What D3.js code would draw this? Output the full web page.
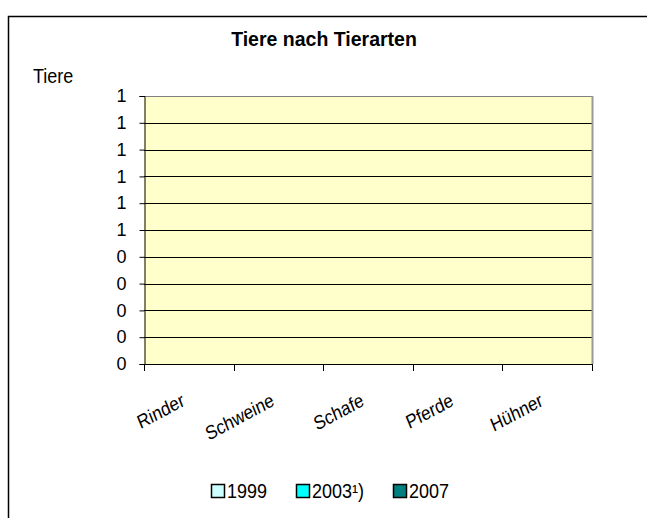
<!DOCTYPE html>
<html lang="de">
<head>
<meta charset="utf-8">
<title>Tiere nach Tierarten</title>
<script src="https://d3js.org/d3.v7.min.js"></script>
<style>
  body { margin: 0; background: #fff; font-family: 'Liberation Sans', Arial, sans-serif; }
</style>
</head>
<body>
<div id="chart"></div>
<script>

/* Data */
/* ==== */

var categories = ['Rinder', 'Schweine', 'Schafe', 'Pferde', 'Hühner'];
var seriesNames = ['1999', '2003¹)', '2007'];
var seriesColors = ['#ccffff', '#00ffff', '#008080'];
var values1999 = [0, 0, 0, 0, 0];
var values2003 = [0, 0, 0, 0, 0];
var values2007 = [0, 0, 0, 0, 0];
var yTicks = [0, 0.1, 0.2, 0.3, 0.4, 0.5, 0.6, 0.7, 0.8, 0.9, 1];


/* Layout */
/* ====== */

var width = 647,
    height = 518,
    plot = { left: 144, top: 96, right: 592, bottom: 364 };

var svg = d3.select('#chart').append('svg')
  .attr('width', width)
  .attr('height', height);

// outer chart border (runs off the picture on the right and bottom)
svg.append('rect')
  .attr('x', 8.5).attr('y', 16.5)
  .attr('width', 700).attr('height', 600)
  .attr('fill', '#fff')
  .attr('stroke', '#000')
  .attr('stroke-width', 1.5);

var x = d3.scaleBand()
  .domain(categories)
  .range([plot.left, plot.right]);

var y = d3.scaleLinear()
  .domain([0, 1])
  .range([plot.bottom, plot.top]);

var x1 = d3.scaleBand()
  .domain(seriesNames)
  .range([0, x.bandwidth()])
  .paddingOuter(0.3);

// plot area
svg.append('rect')
  .attr('x', plot.left).attr('y', plot.top)
  .attr('width', plot.right - plot.left)
  .attr('height', plot.bottom - plot.top)
  .attr('fill', '#ffffcc');

// gridlines
svg.append('g')
  .selectAll('line')
  .data(yTicks)
  .join('line')
  .attr('x1', plot.left).attr('x2', plot.right)
  .attr('y1', function(d) { return Math.round(y(d)) + 0.5; })
  .attr('y2', function(d) { return Math.round(y(d)) + 0.5; })
  .attr('stroke', function(d) { return d === 1 ? '#808080' : '#000'; })
  .attr('stroke-width', 1);

// plot area border on the right
svg.append('line')
  .attr('x1', plot.right + 0.5).attr('x2', plot.right + 0.5)
  .attr('y1', plot.top).attr('y2', plot.bottom)
  .attr('stroke', '#999').attr('stroke-width', 2);

// bars (all values are zero)
var series = [values1999, values2003, values2007];
series.forEach(function(vals, s) {
  svg.append('g')
    .selectAll('rect')
    .data(vals)
    .join('rect')
    .attr('x', function(d, i) { return x(categories[i]) + x1(seriesNames[s]); })
    .attr('y', function(d) { return y(d); })
    .attr('width', x1.bandwidth())
    .attr('height', function(d) { return y(0) - y(d); })
    .attr('fill', seriesColors[s])
    .attr('stroke', '#000');
});

// y axis
var yAxis = svg.append('g')
  .attr('transform', 'translate(' + (plot.left + 0.5) + ',0)')
  .call(d3.axisLeft(y)
    .tickValues(yTicks)
    .tickSize(5)
    .tickPadding(13)
    .tickFormat(function(d) { return Math.round(d); }));

yAxis.select('.domain').attr('stroke', '#000');
yAxis.selectAll('.tick line').attr('stroke', '#000');
yAxis.selectAll('.tick text')
  .attr('font-family', "'Liberation Sans', Arial, sans-serif")
  .attr('font-size', 18)
  .attr('fill', '#000');

// x axis
var xTickPos = categories.map(function(c) { return x(c); }).concat([plot.right]);

svg.append('line')
  .attr('x1', plot.left).attr('x2', plot.right)
  .attr('y1', plot.bottom + 0.5).attr('y2', plot.bottom + 0.5)
  .attr('stroke', '#000');

svg.append('g')
  .selectAll('line')
  .data(xTickPos)
  .join('line')
  .attr('x1', function(d) { return Math.round(d) + 0.5; })
  .attr('x2', function(d) { return Math.round(d) + 0.5; })
  .attr('y1', plot.bottom).attr('y2', plot.bottom + 7)
  .attr('stroke', '#000');

// category labels, slanted and a bit stretched like the original
svg.append('g')
  .selectAll('text')
  .data(categories)
  .join('text')
  .attr('transform', function(d) {
    return 'translate(' + (x(d) + x.bandwidth() / 2 - 3) + ',' + 405 + ') scale(1,1.15) rotate(-25)';
  })
  .attr('text-anchor', 'end')
  .attr('font-size', 17)
  .attr('fill', '#000')
  .text(function(d) { return d; });

// title and axis label
svg.append('text')
  .attr('x', 324).attr('y', 46)
  .attr('text-anchor', 'middle')
  .attr('font-size', 19.5)
  .attr('font-weight', 'bold')
  .text('Tiere nach Tierarten');

svg.append('text')
  .attr('transform', 'translate(33,83) scale(1,1.15)')
  .attr('font-size', 18)
  .text('Tiere');

// legend
var legendX = [211, 296, 393];

var legend = svg.append('g')
  .selectAll('g')
  .data(seriesNames)
  .join('g')
  .attr('transform', function(d, i) { return 'translate(' + legendX[i] + ',484)'; });

legend.append('rect')
  .attr('x', 0.5).attr('y', 0.5)
  .attr('width', 13).attr('height', 13)
  .attr('fill', function(d, i) { return seriesColors[i]; })
  .attr('stroke', '#000')
  .attr('stroke-width', 1.5);

legend.append('text')
  .attr('transform', 'translate(16,14) scale(1,1.1)')
  .attr('font-size', 18)
  .text(function(d) { return d; });

</script>
</body>
</html>
